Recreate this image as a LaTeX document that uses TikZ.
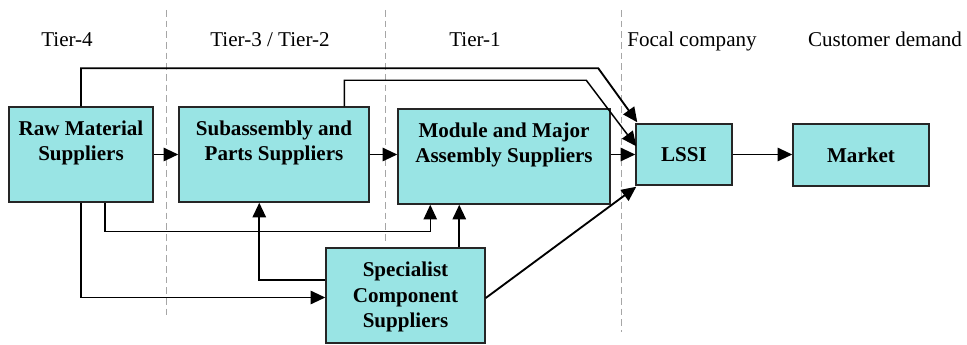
\documentclass[tikz,border=0pt]{standalone}
\usepackage{fontspec}
\setmainfont{Liberation Serif}
\usetikzlibrary{arrows.meta,calc}
\definecolor{boxfill}{RGB}{153,228,228}
\begin{document}
\begin{tikzpicture}[x=0.75pt,y=-0.75pt,
  box/.style={draw=black!85, line width=1.1pt, fill=boxfill, inner sep=0pt},
  btxt/.style={font=\fontsize{15.8}{18.8}\selectfont\bfseries, align=center, inner sep=0pt},
  lbl/.style={font=\fontsize{15.8}{18.8}\selectfont, inner sep=0pt, anchor=base},
  arr/.style={line width=1.4pt, -{Triangle[length=11pt,width=10pt]}},
  thin arr/.style={line width=1.1pt, -{Triangle[length=11pt,width=10pt]}},
  tier/.style={draw=gray!70, line width=0.6pt, dash pattern=on 5pt off 3pt}]
\useasboundingbox (0,0) rectangle (967,345);

% tier separators
\draw[tier] (166,10) -- (166,318);
\draw[tier] (385,10) -- (385,242);
\draw[tier] (621,10) -- (621,332);

% tier labels
\node[lbl] (t4) at (67,47) {Tier-4};
\node[lbl] (t32) at (270,47) {Tier-3 / Tier-2};
\node[lbl] (t1) at (475,47) {Tier-1};
\node[lbl] (tf) at (692,47) {Focal company};
\node[lbl] (tc) at (885,47) {Customer demand};

% boxes
\node[box, minimum width=108pt, minimum height=71.25pt] (raw) at (81,154.5) {};
\node[btxt] (rawt) at (81,142.7) {Raw Material\\Suppliers};
\node[box, minimum width=142.5pt, minimum height=71.25pt] (sub) at (274,154.5) {};
\node[btxt] (subt) at (274,142.7) {Subassembly and\\Parts Suppliers};
\node[box, minimum width=159pt, minimum height=71.25pt] (mod) at (504,156.5) {};
\node[btxt] (modt) at (504,144.6) {Module and Major\\Assembly Suppliers};
\node[box, minimum width=72pt, minimum height=45.75pt] (lssi) at (684,154.5) {};
\node[btxt] (lssit) at (684,154.5) {LSSI};
\node[box, minimum width=102pt, minimum height=46.5pt] (market) at (861,155) {};
\node[btxt] (markett) at (861,155) {Market};
\node[box, minimum width=119.25pt, minimum height=71.25pt] (spec) at (405.5,295.5) {};
\node[btxt] (spect) at (405.5,297) {Specialist\\Component\\Suppliers};

% connectors
\draw[arr] (raw.north) |- ($(lssi.north west)+(-37,-55)$) -- ($(lssi.north west)+(2,-1)$);
\draw[thin arr] ($(sub.north west)+(166,0)$) |- ($(lssi.north west)+(-49,-43)$) -- ($(lssi.north west)+(1,23)$);
\draw[arr] (raw.east) -- (sub.west);
\draw[arr] (sub.east) -- (sub.east -| mod.west);
\draw[arr] (lssi.west -| mod.east) -- (lssi.west);
\draw[arr] (lssi.east) -- (lssi.east -| market.west);
\draw[thin arr] ($(raw.south west)+(96.5,0)$) |- ($(mod.south west)+(33,27)$) -- ($(mod.south west)+(33,0)$);
\draw[arr] (raw.south) |- ($(spec.west)+(0,2)$);
\draw[arr] ($(spec.north west)+(0,33)$) -| ($(sub.south west)+(81,0)$);
\draw[arr] ($(spec.north west)+(134,0)$) -- ($(mod.south west)+(62,0)$);
\draw[arr] ($(spec.east)+(0,2.5)$) -- ($(lssi.south west)+(1,1)$);
\end{tikzpicture}
\end{document}
